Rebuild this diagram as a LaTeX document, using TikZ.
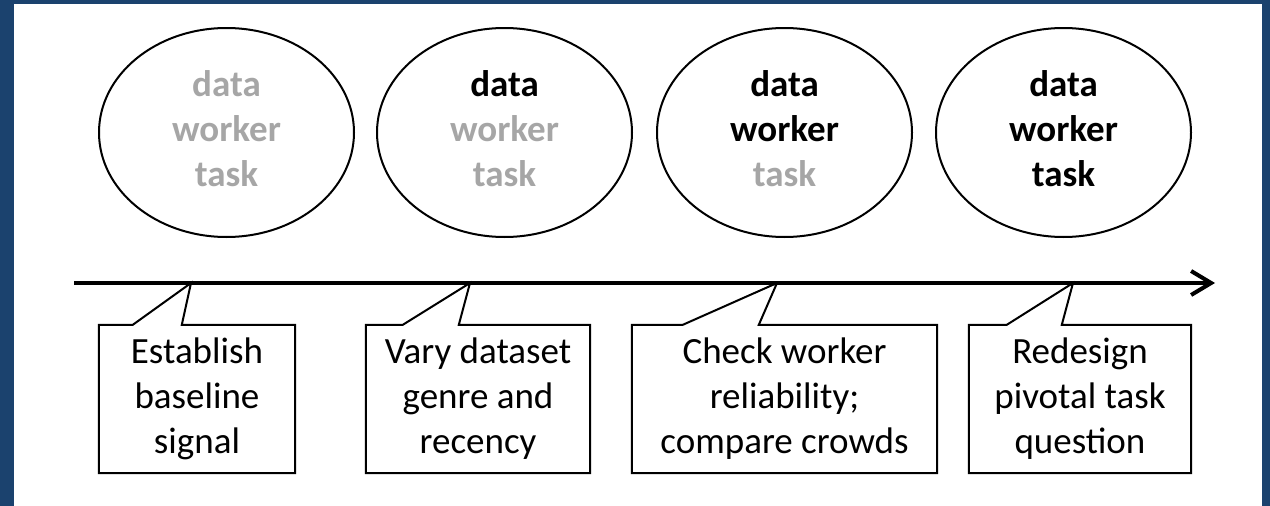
\documentclass[tikz,border=0pt]{standalone}
\usepackage{fontspec}
\setmainfont{Carlito}
\usetikzlibrary{arrows.meta,calc,shapes.geometric}
\definecolor{frameblue}{RGB}{27,66,110}
\definecolor{fadegray}{RGB}{166,166,166}
\begin{document}
\begin{tikzpicture}[x=1pt,y=-1pt,
  bubble/.style={draw=black,line width=2pt,ellipse,minimum width=255pt,minimum height=209pt,inner sep=0pt},
  btext/.style={font=\fontsize{37}{45}\selectfont\bfseries,align=center,inner sep=0pt,yshift=3.5pt},
  boxtext/.style={font=\fontsize{37}{45}\selectfont,align=center,inner sep=0pt,minimum height=148pt},
  callout/.style={draw=black,line width=2pt,line join=miter},
  axisline/.style={line width=4pt,-{Straight Barb[length=20pt,width=24pt]}}
]
\useasboundingbox (0,0) rectangle (1270,506);
\fill[frameblue] (0,0) rectangle (1270,506);
\fill[white] (14,4) rectangle (1262,506);

% ellipses
\node[bubble] (e1) at (226.5,132.5) {};
\node[bubble] (e2) at (504.5,132.5) {};
\node[bubble] (e3) at (784.5,132.5) {};
\node[bubble] (e4) at (1063.5,132.5) {};
\node[btext] (t1) at (e1.center) {\textcolor{fadegray}{data}\\\textcolor{fadegray}{worker}\\\textcolor{fadegray}{task}};
\node[btext] (t2) at (e2.center) {\textcolor{black}{data}\\\textcolor{fadegray}{worker}\\\textcolor{fadegray}{task}};
\node[btext] (t3) at (e3.center) {\textcolor{black}{data}\\\textcolor{black}{worker}\\\textcolor{fadegray}{task}};
\node[btext] (t4) at (e4.center) {\textcolor{black}{data}\\\textcolor{black}{worker}\\\textcolor{black}{task}};

% timeline
\coordinate (a0) at (74,283);
\coordinate (a1) at (1215,283);
\draw[axisline] (a0) -- (a1);
\coordinate (p1) at (191,283);
\coordinate (p2) at (470,283);
\coordinate (p3) at (777,283);
\coordinate (p4) at (1073,283);

% callouts
\node[boxtext,minimum width=196pt] (c1) at (197,399) {Establish\\baseline\\signal};
\node[boxtext,minimum width=224pt] (c2) at (478,399) {Vary dataset\\genre and\\recency};
\node[boxtext,minimum width=305pt] (c3) at (784.5,399) {Check worker\\reliability;\\compare crowds};
\node[boxtext,minimum width=222pt] (c4) at (1080,399) {Redesign\\pivotal task\\question};

\draw[callout] (c1.north west) -- ($(c1.north west)+(34,0)$) -- (p1) -- ($(c1.north west)+(83,0)$) -- (c1.north east) -- (c1.south east) -- (c1.south west) -- cycle;
\draw[callout] (c2.north west) -- ($(c2.north west)+(37,0)$) -- (p2) -- ($(c2.north west)+(93,0)$) -- (c2.north east) -- (c2.south east) -- (c2.south west) -- cycle;
\draw[callout] (c3.north west) -- ($(c3.north west)+(51,0)$) -- (p3) -- ($(c3.north west)+(127,0)$) -- (c3.north east) -- (c3.south east) -- (c3.south west) -- cycle;
\draw[callout] (c4.north west) -- ($(c4.north west)+(38,0)$) -- (p4) -- ($(c4.north west)+(93,0)$) -- (c4.north east) -- (c4.south east) -- (c4.south west) -- cycle;
\end{tikzpicture}
\end{document}
